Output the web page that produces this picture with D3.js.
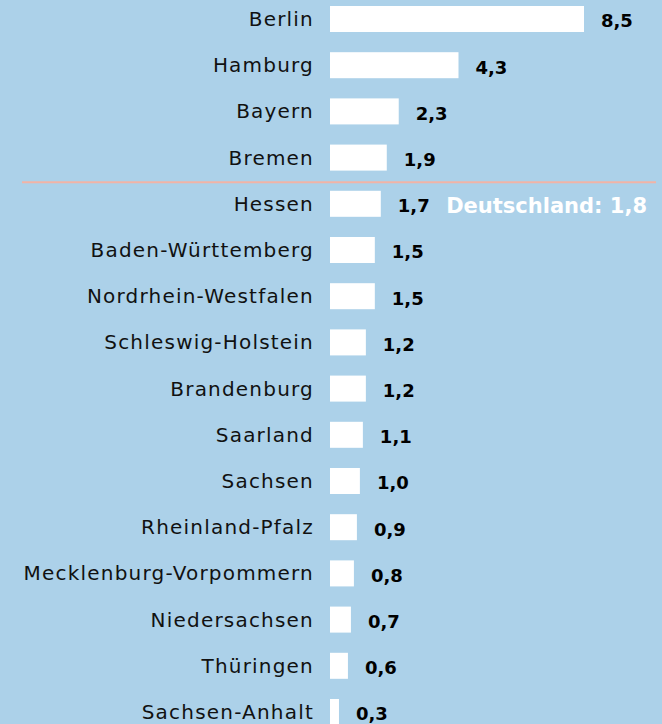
<!DOCTYPE html>
<html>
<head>
<meta charset="utf-8">
<script src="https://cdn.jsdelivr.net/npm/d3@7"></script>
<style>
  html, body { margin: 0; padding: 0; background: #acd1e9; }
  #chart svg { display: block; }
</style>
</head>
<body>
<div id="chart"></div>
<script>
// ── Data ───────────────────────────────────────
const STATES = [
  "Berlin","Hamburg","Bayern","Bremen","Hessen","Baden-Württemberg",
  "Nordrhein-Westfalen","Schleswig-Holstein","Brandenburg","Saarland",
  "Sachsen","Rheinland-Pfalz","Mecklenburg-Vorpommern","Niedersachsen",
  "Thüringen","Sachsen-Anhalt"
];
const VALUES = [8.5, 4.3, 2.3, 1.9, 1.7, 1.5, 1.5, 1.2, 1.2, 1.1, 1.0, 0.9, 0.8, 0.7, 0.6, 0.3];
const AVG_LABEL = "Deutschland";
const AVG_VALUE = 1.8;

(function () {
  const W = 662, H = 724;
  const FONT = "'DejaVu Sans', sans-serif";
  const fmt = v => d3.format(".1f")(v).replace(".", ",");

  const data = STATES.map((s, i) => ({ state: s, value: VALUES[i] }));

  const svg = d3.select("#chart").append("svg")
    .attr("width", W).attr("height", H);

  svg.append("rect").attr("width", W).attr("height", H).attr("fill", "#acd1e9");

  const x = d3.scaleLinear().domain([0, 8.5]).range([330, 584]);
  const y = d3.scaleBand().domain(STATES).range([-4.1, 735.1])
    .paddingInner(0.437).paddingOuter(0.2185);

  // Bars
  svg.selectAll(".bar").data(data).join("rect")
    .attr("class", "bar")
    .attr("x", x(0))
    .attr("y", d => y(d.state))
    .attr("width", d => x(d.value) - x(0))
    .attr("height", y.bandwidth())
    .attr("fill", "#ffffff");

  // State labels
  svg.selectAll(".lbl").data(data).join("text")
    .attr("class", "lbl")
    .attr("x", 314)
    .attr("y", d => y(d.state) + y.bandwidth() / 2)
    .attr("dy", "0.35em")
    .attr("text-anchor", "end")
    .attr("font-family", FONT).attr("font-size", "20px")
    .attr("letter-spacing", "1.2px")
    .attr("fill", "#111")
    .text(d => d.state);

  // Value labels
  svg.selectAll(".val").data(data).join("text")
    .attr("class", "val")
    .attr("x", d => x(d.value) + 17)
    .attr("y", d => y(d.state) + y.bandwidth() / 2 + 2)
    .attr("dy", "0.35em")
    .attr("font-family", FONT).attr("font-size", "18px").attr("font-weight", 700)
    .attr("fill", "#000")
    .text(d => fmt(d.value));

  // Average divider between Bremen and Hessen
  const idx = VALUES.findIndex(v => v < AVG_VALUE);
  const lineY = (y(STATES[idx - 1]) + y.bandwidth() + y(STATES[idx])) / 2 + 1.5;
  svg.append("line")
    .attr("x1", 22).attr("x2", 656)
    .attr("y1", lineY).attr("y2", lineY)
    .attr("stroke", "#f2b3a6").attr("stroke-width", 2);

  svg.append("text")
    .attr("x", 647)
    .attr("y", y(STATES[idx]) + y.bandwidth() / 2 + 2)
    .attr("dy", "0.35em")
    .attr("text-anchor", "end")
    .attr("font-family", FONT).attr("font-size", "21px").attr("font-weight", 700)
    .attr("fill", "#ffffff")
    .text(`${AVG_LABEL}: ${fmt(AVG_VALUE)}`);
})();
</script>
</body>
</html>
